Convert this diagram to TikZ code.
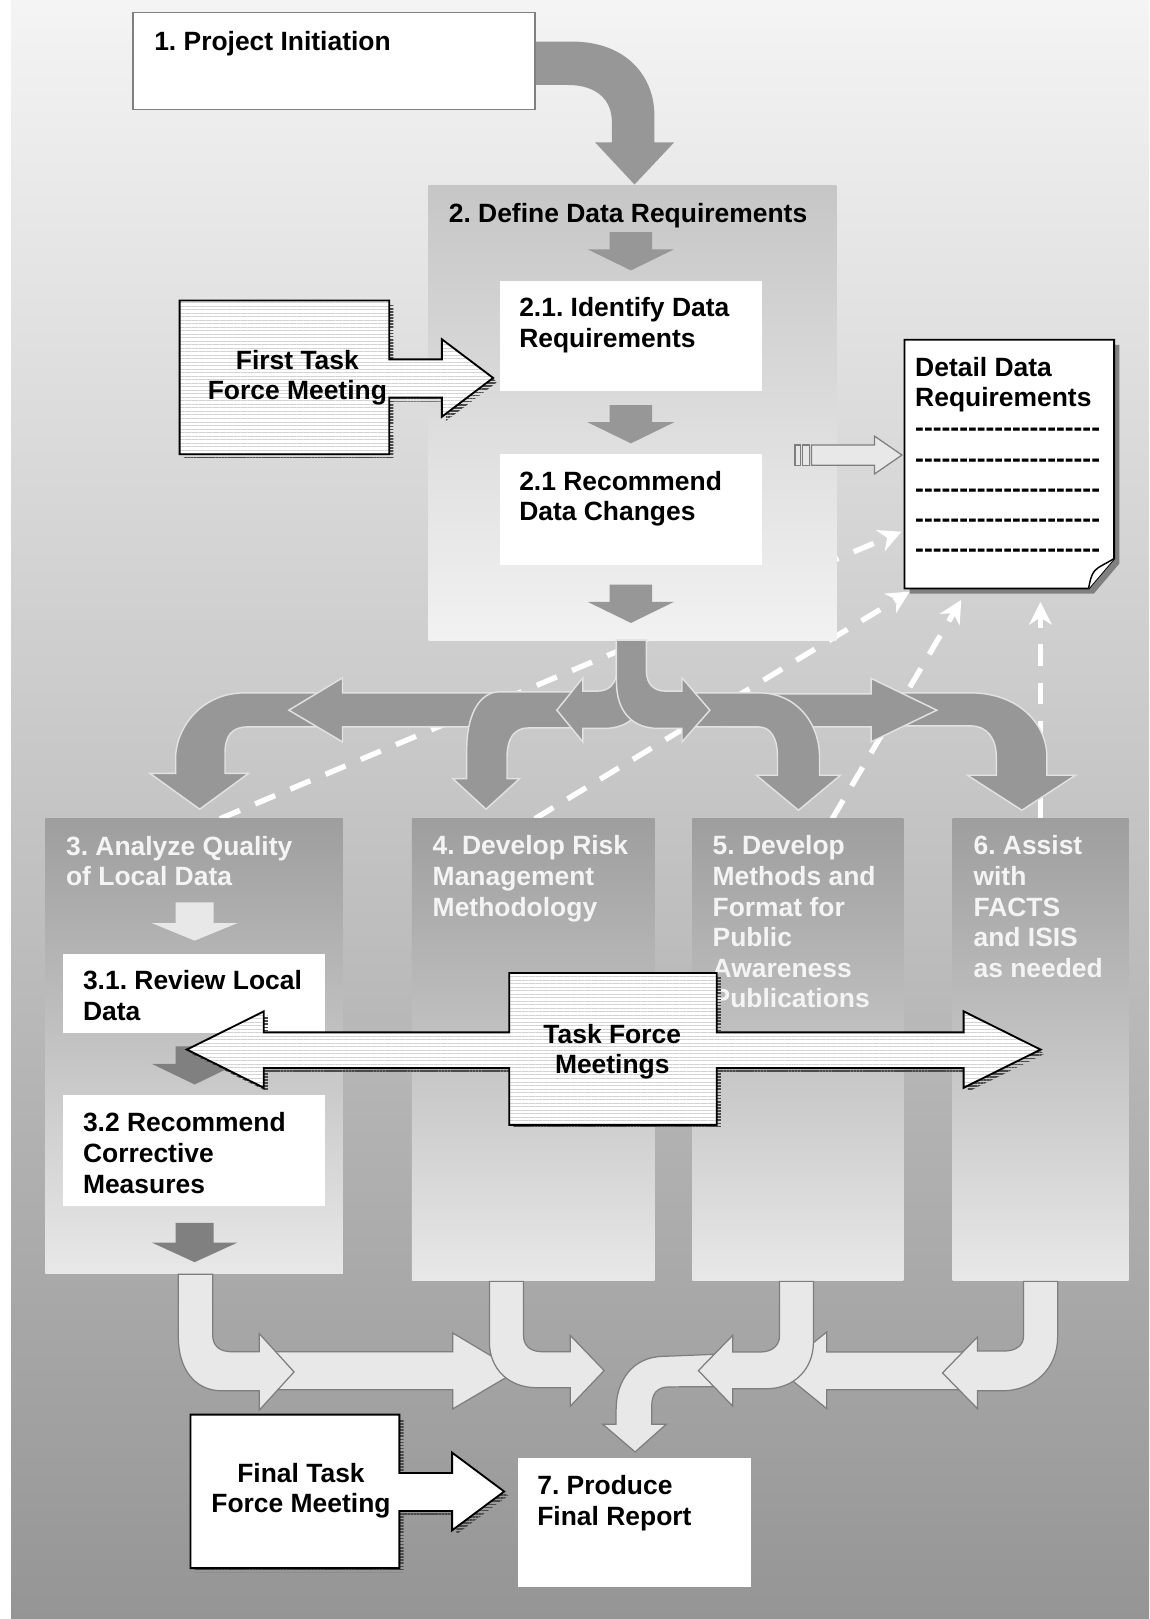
\documentclass[tikz,border=0pt]{standalone}
\usepackage{fontspec}
\setmainfont{Liberation Sans}
\usetikzlibrary{arrows.meta,patterns.meta}
\frenchspacing
\definecolor{bgtop}{HTML}{F4F4F4}
\definecolor{bgbot}{HTML}{959595}
\definecolor{arrg}{HTML}{979797}
\definecolor{arrline}{HTML}{E2E2E2}
\definecolor{lightar}{HTML}{E8E8E8}
\definecolor{lightline}{HTML}{7E7E7E}
\definecolor{darkar}{HTML}{808080}
\definecolor{hatchc}{HTML}{D2D2D2}
\definecolor{shadowc}{HTML}{4A4A4A}
\definecolor{boxtxt}{HTML}{F4F4F4}
\definecolor{twotop}{HTML}{C6C6C6}
\definecolor{twobot}{HTML}{F2F2F2}
\definecolor{coltop}{HTML}{9E9E9E}
\definecolor{colbot}{HTML}{E8E8E8}
\definecolor{boxedge}{HTML}{808080}
\newcommand\dashhy{-\kern0pt}
\newcommand\dashrow{\dashhy\dashhy\dashhy\dashhy\dashhy\dashhy\dashhy\dashhy\dashhy\dashhy\dashhy\dashhy\dashhy\dashhy\dashhy\dashhy\dashhy\dashhy\dashhy\dashhy\dashhy}
% down block arrow: [style]{cx}{top}{shaft half width}{shaft length}{head half width}{head length}
\newcommand\dnarr[7][]{\fill[#1] ({#2-#4},#3) -- ({#2+#4},#3) -- ({#2+#4},{#3+#5}) -- ({#2+#6},{#3+#5}) -- (#2,{#3+#5+#7}) -- ({#2-#6},{#3+#5}) -- ({#2-#4},{#3+#5}) -- cycle;}
\def\pFirst{(174,291) -- (377,291) -- (377,348) -- (428,348) -- (428,328.6) -- (477.6,366) -- (428,403.6) -- (428,385) -- (377,385) -- (377,440) -- (174,440) -- cycle}
\def\pTask{(493.2,942.3) -- (694.1,942.3) -- (694.1,999.8) -- (933.3,999.8) -- (933.3,979.5) -- (1007.8,1016.5) -- (933.3,1053.5) -- (933.3,1034.5) -- (694.1,1034.5) -- (694.1,1089.4) -- (493.2,1089.4) -- (493.2,1034.5) -- (255.5,1034.5) -- (255.5,1053.5) -- (181,1016.5) -- (255.5,979.5) -- (255.5,999.8) -- (493.2,999.8) -- cycle}
\def\pFinal{(184.5,1370) -- (386.8,1370) -- (386.8,1426.6) -- (437.9,1426.6) -- (437.9,1406.9) -- (488.3,1444.5) -- (437.9,1482.1) -- (437.9,1463.4) -- (386.8,1463.4) -- (386.8,1518.7) -- (184.5,1518.7) -- cycle}
\def\pDoc{(876,329) -- (1079,329) -- (1079,541) -- (1054.3,570) -- (876,570) -- cycle}
\begin{document}
\begin{tikzpicture}[x=0.5pt,y=-0.5pt,
  txt/.style={anchor=north west,inner sep=0pt,align=left,font=\bfseries\fontsize{12.8pt}{14.8pt}\selectfont},
  ctxt/.style={anchor=north,inner sep=0pt,align=center,font=\bfseries\fontsize{12.8pt}{14.8pt}\selectfont},
  rbox/.style={anchor=north west,inner sep=0pt,outer sep=0pt},
  colbox/.style={rbox,top color=coltop,bottom color=colbot,minimum height=223.8pt},
  gbranch/.style={fill=arrg,draw=arrline,line width=0.7pt},
  lbranch/.style={fill=lightar,draw=lightline,line width=0.6pt},
  dashlink/.style={draw=white,line width=2.6pt,dash pattern=on 10.5pt off 8pt,-{Stealth[length=11pt,width=11pt,inset=3.5pt]}},
  hatched/.style={preaction={fill=white},pattern={Lines[angle=0,distance=1.7pt,line width=0.35pt]},pattern color=hatchc,draw=black,line width=0.9pt},
  shadowhatch/.style={pattern={Lines[angle=0,distance=1.5pt,line width=0.8pt]},pattern color=shadowc},
]
\useasboundingbox (0,0) rectangle (1113,1568);
% background
\fill[white] (0,0) rectangle (1113,1568);
\shade[top color=bgtop,bottom color=bgbot] (10.7,0) rectangle (1113,1568);

% dashed feedback links (behind boxes and arrows)
\coordinate (d1s) at (213,793);   \coordinate (d1e) at (873,515);
\coordinate (d2s) at (518,793);   \coordinate (d2e) at (881,573);
\coordinate (d3s) at (806,793);   \coordinate (d3e) at (931,581);
\coordinate (d4s) at (1007.7,793);\coordinate (d4e) at (1007.7,583);
\draw[dashlink] (d1s) -- (d1e);
\draw[dashlink] (d2s) -- (d2e);
\draw[dashlink] (d3s) -- (d3e);
\draw[dashlink] (d4s) -- (d4e);

% 1. project initiation and big curved arrow
\fill[arrg] (518,40.2) -- (553,40.2) .. controls (608,40.2) and (633.8,75) .. (633.8,112) -- (633.8,137.8) -- (653,137.8) -- (614.5,178.7) -- (576.3,137.8) -- (592.6,137.8) -- (592.6,118) .. controls (592.6,96) and (577,82.3) .. (550,82.3) -- (518,82.3) -- cycle;
\node[rbox,fill=white,draw=boxedge,line width=0.8pt,minimum width=194.5pt,minimum height=47pt] (b1) at (129,12) {};
\node[txt] (t1) at (149,29.8) {1. Project Initiation};

% 2. define data requirements
\node[rbox,top color=twotop,bottom color=twobot,minimum width=197.5pt,minimum height=220.25pt] (b2) at (415,179.5) {};
\node[txt] (t2) at (434.3,196.4) {2. Define Data Requirements};
\dnarr[arrg]{611}{224.9}{20.5}{16.5}{42}{20.5}
\dnarr[arrg]{611}{392.4}{20.5}{16.5}{42}{20.5}
\dnarr[arrg]{611}{566.3}{20.5}{16.5}{42}{20.5}
\node[rbox,fill=white,minimum width=127pt,minimum height=53.5pt] (b21) at (484,272) {};
\node[txt] (t21) at (502.5,287.8) {2.1. Identify Data\\Requirements};
\node[rbox,fill=white,minimum width=127pt,minimum height=53.5pt] (b22) at (484,440) {};
\node[txt] (t22) at (502.5,455.8) {2.1 Recommend\\Data Changes};

% first task force meeting callout
\path[shadowhatch,shift={(4,4)}] \pFirst;
\path[hatched] \pFirst;
\node[ctxt] (tfirst) at (288,338.5) {First Task\\Force Meeting};

% detail data requirements document
\fill[boxedge,shift={(5,5)}] \pDoc;
\draw[fill=white,line width=0.9pt] \pDoc;
\draw[fill=white,line width=0.7pt] (1054.3,570) .. controls (1056,560) and (1058,553) .. (1064,549.5) .. controls (1070,546) and (1074,544) .. (1079,541);
\node[txt,font=\bfseries\fontsize{12.8pt}{14.6pt}\selectfont] (tdoc) at (886,345.8) {Detail Data\\Requirements\\\dashrow\\\dashrow\\\dashrow\\\dashrow\\\dashrow};
% striped arrow into the document
\coordinate (sa) at (770,440.7);
\coordinate (se) at (873.5,440.7);
\draw[fill=lightar,draw=lightline,line width=0.6pt] (770,431) rectangle (775,450.5);
\draw[fill=lightar,draw=lightline,line width=0.6pt] (777,431) rectangle (784,450.5);
\draw[fill=lightar,draw=lightline,line width=0.6pt] (786,431) -- (847,431) -- (847,422.4) -- (se) -- (847,459) -- (847,450.5) -- (786,450.5) -- cycle;

% boxes 3-6
\node[colbox,minimum width=144pt,minimum height=220pt] (b3) at (44,793) {};
\node[colbox,minimum width=117.5pt] (b4) at (399,793) {};
\node[colbox,minimum width=102.2pt] (b5) at (670.6,793) {};
\node[colbox,minimum width=85.2pt] (b6) at (922.6,793) {};
\node[txt,text=boxtxt] (t3) at (63.6,809.3) {3. Analyze Quality\\of Local Data};
\node[txt,text=boxtxt] (t4) at (418.7,809) {4. Develop Risk\\Management\\Methodology};
\node[txt,text=boxtxt] (t5) at (689.8,809) {5. Develop\\Methods and\\Format for\\Public\\Awareness\\Publications};
\node[txt,text=boxtxt] (t6) at (942.5,809) {6. Assist\\with\\FACTS\\and ISIS\\as needed};
\dnarr[lightar]{188.5}{874}{18.5}{20}{41.5}{17}
\node[rbox,fill=white,minimum width=127pt,minimum height=38.5pt] (b31) at (60.7,923.5) {};
\node[txt] (t31) at (80,939.8) {3.1. Review Local\\Data};
\dnarr[darkar]{188.5}{1013.3}{18.5}{17}{41.5}{20}
\node[rbox,fill=white,minimum width=127pt,minimum height=53.65pt] (b32) at (60.7,1060.7) {};
\node[txt] (t32) at (80,1077.3) {3.2 Recommend\\Corrective\\Measures};
\dnarr[darkar]{188.5}{1184.4}{18.5}{19}{41.5}{19}

% branching grey arrows
\path[gbranch] (325,671) -- (237,671) .. controls (195,671) and (170,705) .. (170,735) -- (170,749) -- (145.2,749) -- (193.4,783.7) -- (240.8,749) -- (217.9,749) -- (217.9,730) .. controls (217.9,713) and (224,704) .. (240,704) -- (325,704) -- cycle;
\path[gbranch] (485,671) -- (331.7,671) -- (331.7,656.5) -- (279.8,687.8) -- (331.7,718.5) -- (331.7,704) -- (485,704) -- cycle;
\path[gbranch] (575,670) -- (484,670) .. controls (463,670) and (452,695) .. (452,725) -- (452,754) -- (438.5,754) -- (470.7,783.7) -- (503.3,754) -- (491,754) -- (491,735) .. controls (491,716) and (497,705) .. (512,705) -- (575,705) -- cycle;
\path[gbranch] (870,671) -- (940,671) .. controls (985,671) and (1013.9,700) .. (1013.9,733) -- (1013.9,750.8) -- (1041.6,750.8) -- (989.7,784.7) -- (936.9,750.8) -- (964.9,750.8) -- (964.9,733) .. controls (964.9,714) and (955,703) .. (940,703) -- (870,703) -- cycle;
\path[gbranch] (700,672) -- (843.6,672) -- (843.6,657) -- (907.3,687.8) -- (843.6,718.5) -- (843.6,704) -- (700,704) -- cycle;
\path[gbranch] (650,671) -- (735,671) .. controls (771,671) and (793.7,700) .. (793.7,733) -- (793.7,750.8) -- (814,750.8) -- (773.3,784.7) -- (732.6,750.8) -- (753,750.8) -- (753,733) .. controls (753,714) and (746,704) .. (734.5,704) -- (650,704) -- cycle;
\path[gbranch] (597,620) -- (597,650) .. controls (597,662) and (590,669.4) .. (578,669.4) -- (564.5,669.4) -- (564.5,656.5) -- (539.3,687.8) -- (564.5,718.5) -- (564.5,705.5) -- (585,705.5) .. controls (610,705.5) and (626,690) .. (626,660) -- (626,620) -- cycle;
\path[gbranch] (626,620) -- (626,650) .. controls (626,662) and (633,669.4) .. (645,669.4) -- (660.5,669.4) -- (660.5,656.5) -- (687.5,687.8) -- (660.5,718.5) -- (660.5,705.5) -- (638,705.5) .. controls (613,705.5) and (597,690) .. (597,660) -- (597,620) -- cycle;

% task force meetings double arrow
\path[shadowhatch,shift={(4,4)}] \pTask;
\path[hatched] \pTask;
\node[ctxt] (ttask) at (593,991.3) {Task Force\\Meetings};

% bottom light arrows
\path[lbranch] (262,1309.2) -- (438.5,1309.2) -- (438.5,1291) -- (500.5,1328) -- (438.5,1364.5) -- (438.5,1346) -- (262,1346) -- cycle;
\path[lbranch] (955,1309.5) -- (800.7,1309.5) -- (800.7,1290) -- (754.9,1327) -- (800.7,1364.3) -- (800.7,1346) -- (955,1346) -- cycle;
\path[lbranch] (700,1311.3) -- (642.6,1313.6) .. controls (612,1314) and (596.7,1338) .. (596.7,1365) -- (596.7,1379.4) -- (583.8,1379.4) -- (615.1,1406.2) -- (645.2,1379.4) -- (631.2,1379.4) -- (631.2,1362) .. controls (631.2,1350) and (636,1343.4) .. (648,1343.2) -- (700,1343) -- cycle;
\path[lbranch] (172.7,1234.2) -- (206,1234.2) -- (206,1293) .. controls (206,1303) and (212,1309.2) .. (225,1309.2) -- (251,1309.2) -- (251,1291.5) -- (284.8,1328.7) -- (251,1365.8) -- (251,1347) -- (215,1347) .. controls (188,1347) and (172.7,1325) .. (172.7,1295) -- cycle;
\path[lbranch] (474,1241) -- (507,1241) -- (507,1293) .. controls (507,1303) and (513,1309.2) .. (526,1309.2) -- (552.2,1309.2) -- (552.2,1293.2) -- (585.1,1327.4) -- (552.2,1362) -- (552.2,1344) -- (520,1344) .. controls (492,1344) and (474,1325) .. (474,1300) -- cycle;
\path[lbranch] (787.8,1241) -- (754.9,1241) -- (754.9,1294) .. controls (754.9,1303) and (748,1309.4) .. (736,1309.4) -- (709.7,1309.4) -- (709.7,1293.2) -- (676.4,1327.4) -- (709.7,1361.9) -- (709.7,1345) -- (742,1345) .. controls (770,1345) and (787.8,1325) .. (787.8,1300) -- cycle;
\path[lbranch] (1024.3,1241) -- (991.3,1241) -- (991.3,1294) .. controls (991.3,1303) and (984,1308.5) .. (972,1308.5) -- (946.7,1308.5) -- (946.7,1294.8) -- (912.8,1329.7) -- (946.7,1364.3) -- (946.7,1347) -- (970,1347) .. controls (1002,1347) and (1024.3,1325) .. (1024.3,1295) -- cycle;

% final task force meeting and final report
\path[shadowhatch,shift={(4,4)}] \pFinal;
\draw[fill=white,line width=0.9pt] \pFinal;
\node[ctxt] (tfinal) at (291.5,1416.4) {Final Task\\Force Meeting};
\node[rbox,fill=white,minimum width=112.85pt,minimum height=62.5pt] (b7) at (501.8,1412) {};
\node[txt] (t7) at (520,1428.4) {7. Produce\\Final Report};
\end{tikzpicture}
\end{document}
